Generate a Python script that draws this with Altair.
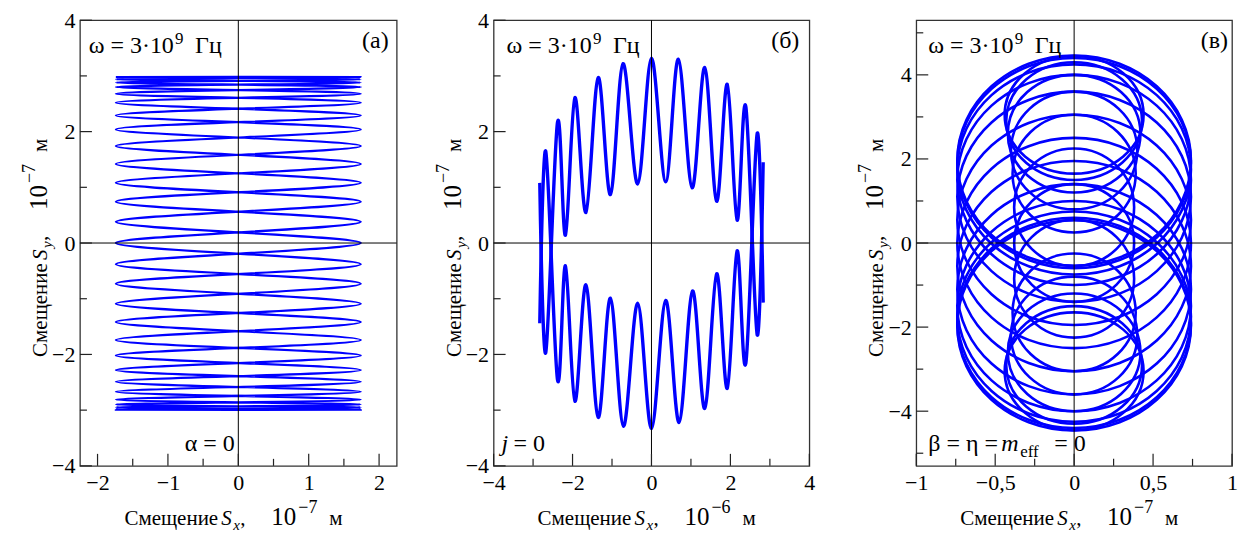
import altair as alt
import pandas as pd

FONT = "Liberation Serif"
BLUE = "#0000ff"

# ---------------- panel (а): turning levels of the sweeps, 10^-7 m ----------------
a_levels = [2.98, 2.94, 2.88, 2.80, 2.68, 2.52, 2.29, 2.04, 1.74, 1.42, 1.08, 0.74, 0.38, 0.00,
            -0.38, -0.73, -1.09, -1.42, -1.74, -2.02, -2.28, -2.49, -2.67, -2.81, -2.90, -2.95, -2.99]
a_tip = 1.74

# ---------------- panel (б): extrema of the two branches ----------------
b_upper_x = [-2.83, -2.68, -2.38, -2.18, -1.94, -1.66, -1.35, -1.04, -0.72, -0.35, 0.00,
             0.36, 0.68, 1.03, 1.35, 1.65, 1.92, 2.17, 2.39, 2.68, 2.83]
b_upper_y = [1.08, -1.97, 2.17, 0.14, 2.61, 0.55, 2.97, 0.87, 3.22, 1.06, 3.32,
             1.10, 3.30, 0.99, 3.15, 0.75, 2.85, 0.41, 2.45, -1.65, 1.45]
b_lower_x = [-2.83, -2.68, -2.38, -2.18, -1.94, -1.66, -1.35, -1.04, -0.71, -0.35, 0.00,
             0.36, 0.70, 1.04, 1.35, 1.65, 1.92, 2.17, 2.39, 2.68, 2.83]
b_lower_y = [-1.44, 1.65, -2.46, -0.41, -2.84, -0.75, -3.13, -0.99, -3.29, -1.08, -3.33,
             -1.03, -3.22, -0.86, -2.97, -0.55, -2.61, -0.14, -2.16, 1.97, -1.07]

# ---------------- panel (в): loops (centre, half-width, half-height) ----------------
c_wide_cy = [1.96, 1.90, 1.75, 1.50, 1.10, 0.55, 0.00, -0.55, -1.10, -1.50, -1.75, -1.90, -1.96]
c_wide_rx = [0.74] * 13
c_wide_ry = [2.50] * 13
c_narrow_cy = [3.05, 2.90, 2.60, 2.20, 1.65, 0.85, 0.00, -0.85, -1.65, -2.20, -2.60, -2.90, -3.05]
c_narrow_rx = [0.44, 0.43, 0.42, 0.40, 0.39, 0.38, 0.38, 0.38, 0.39, 0.40, 0.42, 0.43, 0.44]
c_narrow_ry = [1.40] * 13

# ---------------- build point tables ----------------
ax, ay = [], []
n = len(a_levels)
for k in range(n):
    ax.append(-a_tip if k % 2 == 0 else a_tip)
    ay.append(a_levels[k])
for k in range(n - 1, -1, -1):
    ax.append(a_tip if k % 2 == 0 else -a_tip)
    ay.append(a_levels[k])
ax.append(-a_tip)
ay.append(a_levels[0])
df_a = pd.DataFrame({"x": ax, "y": ay, "i": range(len(ax)), "s": "a"})

df_b = pd.concat([
    pd.DataFrame({"x": b_upper_x, "y": b_upper_y, "i": range(len(b_upper_x)), "s": "up"}),
    pd.DataFrame({"x": b_lower_x, "y": b_lower_y, "i": range(len(b_lower_x)), "s": "low"}),
], ignore_index=True)

rows = []
loops = list(zip(c_wide_cy, c_wide_rx, c_wide_ry)) + list(zip(c_narrow_cy, c_narrow_rx, c_narrow_ry))
for k, (cyc, rx, ry) in enumerate(loops):
    for j, (px, py) in enumerate([(rx, cyc), (0.0, cyc + ry), (-rx, cyc), (0.0, cyc - ry)]):
        rows.append({"x": px, "y": py, "i": j, "s": f"loop{k}"})
df_c = pd.DataFrame(rows)

H = 446
TOPREF = 17   # reference-image offset used for top annotations


def text_layer(txt, x, y, size, style="normal", align="left", angle=0):
    return alt.Chart(pd.DataFrame({"t": [txt]})).mark_text(
        font=FONT, fontSize=size, fontStyle=style, align=align, baseline="alphabetic",
        angle=angle, color="black").encode(text="t:N", x=alt.value(x), y=alt.value(y))


def title_layers(var, exp, W, vertical):
    pieces = [("Смещение", 0, 0, 21, "normal"), ("S", 97, 0, 21, "italic"),
              (var, 109, -5, 15, "italic"), (",", 116, 0, 21, "normal"),
              ("10", 147, 0, 25, "normal"), (exp, 174, 12, 18, "normal"),
              ("м", 205, 0, 21, "normal")]
    out = []
    if vertical:
        x0, y0 = -33, H / 2 + 114
        for t, off, rise, size, st in pieces:
            out.append(text_layer(t, x0 - rise, y0 - off, size, st, angle=270))
    else:
        x0, y0 = W / 2 - 114, H + 59
        for t, off, rise, size, st in pieces:
            out.append(text_layer(t, x0 + off, y0 - rise, size, st))
    return out


def omega_layers(x0):
    y0 = 50 - TOPREF
    return [text_layer("ω = 3·10", x0, y0, 24), text_layer("9", x0 + 86.5, y0 - 9, 17),
            text_layer("Гц", x0 + 106.5, y0, 24)]


def panel(df, W, xdom, ydom, xmaj, xmin, ymaj, ymin, sw, interp, tension, xexp, texts, comma=False):
    xs = alt.Scale(domain=xdom, nice=False, zero=False)
    ys = alt.Scale(domain=ydom, nice=False, zero=False)
    lab = "replace(format(datum.value, '~g'), '.', ',')" if comma else "datum.label"
    xaxis = alt.Axis(values=xmaj, title=None, ticks=False, domain=False, grid=False,
                     labelFont=FONT, labelFontSize=22, labelColor="black", labelPadding=7,
                     labelFlush=False, labelOverlap=False, labelExpr=lab)
    yaxis = alt.Axis(values=ymaj, title=None, ticks=False, domain=False, grid=False,
                     labelFont=FONT, labelFontSize=22, labelColor="black", labelPadding=5,
                     labelFlush=False, labelOverlap=False)
    curve = alt.Chart(df).mark_line(color=BLUE, strokeWidth=sw, interpolate=interp,
                                    tension=tension, clip=True).encode(
        x=alt.X("x:Q", scale=xs, axis=xaxis), y=alt.Y("y:Q", scale=ys, axis=yaxis),
        order="i:Q", detail="s:N")
    zx = alt.Chart(pd.DataFrame({"v": [0]})).mark_rule(color="black", strokeWidth=1).encode(
        x=alt.X("v:Q", scale=xs, axis=xaxis))
    zy = alt.Chart(pd.DataFrame({"v": [0]})).mark_rule(color="black", strokeWidth=1).encode(
        y=alt.Y("v:Q", scale=ys, axis=yaxis))
    ticks = []
    for vals, ln in ((xmaj, 12), (xmin, 7)):
        ticks.append(alt.Chart(pd.DataFrame({"v": vals})).mark_rule(color="#222", strokeWidth=1.2).encode(
            x=alt.X("v:Q", scale=xs, axis=xaxis), y=alt.value(H), y2=alt.value(H - ln)))
    for vals, ln in ((ymaj, 12), (ymin, 7)):
        ticks.append(alt.Chart(pd.DataFrame({"v": vals})).mark_rule(color="#222", strokeWidth=1.2).encode(
            y=alt.Y("v:Q", scale=ys, axis=yaxis), x=alt.value(0), x2=alt.value(ln)))
    layers = [curve, zx, zy] + ticks + title_layers("x", xexp, W, False) + \
        title_layers("y", "−7", W, True) + texts
    return alt.layer(*layers).properties(width=W, height=H)


OA, OB, OC = 83, 497, 920   # plot left edges in the reference


def bottom_y(abs_ref):
    return H - (475 - abs_ref)


texts_a = omega_layers(91.7 - OA) + [
    text_layer("(а)", 392 - OA, 45 - TOPREF, 24, align="right"),
    text_layer("α = 0", 238 - OA, bottom_y(460), 24, align="right")]
texts_b = omega_layers(510 - OB) + [
    text_layer("(б)", 803 - OB, 45 - TOPREF, 24, align="right"),
    text_layer("j", 505 - OB, bottom_y(460), 24, style="italic"),
    text_layer("= 0", 517 - OB, bottom_y(460), 24)]
texts_c = omega_layers(932 - OC) + [
    text_layer("(в)", 1232 - OC, 45 - TOPREF, 24, align="right"),
    text_layer("β = η =", 932 - OC, bottom_y(460), 24),
    text_layer("m", 1005 - OC, bottom_y(460), 24, style="italic"),
    text_layer("eff", 1024 - OC, bottom_y(466), 17),
    text_layer("= 0", 1058 - OC, bottom_y(460), 24)]

pa = panel(df_a, 317, [-2.25, 2.25], [-4, 4], [-2, -1, 0, 1, 2], [-1.5, -0.5, 0.5, 1.5],
           [-4, -2, 0, 2, 4], [-3, -1, 1, 3], 2.2, "cardinal", 0, "−7", texts_a)
pb = panel(df_b, 316, [-4, 4], [-4, 4], [-4, -2, 0, 2, 4], [-3, -1, 1, 3],
           [-4, -2, 0, 2, 4], [-3, -1, 1, 3], 3.4, "cardinal", 0, "−6", texts_b)
pc = panel(df_c, 316, [-1, 1], [-5.3, 5.3], [-1, -0.5, 0, 0.5, 1], [-0.75, -0.25, 0.25, 0.75],
           [-4, -2, 0, 2, 4], [-5, -3, -1, 1, 3, 5], 2.6, "cardinal-closed", -0.657, "−7",
           texts_c, comma=True)

chart = alt.hconcat(pa, alt.hconcat(pb, pc, spacing=107, bounds="flush"),
                    spacing=97, bounds="flush").properties(
    padding={"left": 12, "top": 0, "right": 0, "bottom": 0}, background="white"
).configure_view(stroke="#333", strokeWidth=1.3)

chart.save("out.html", embed_options={"renderer": "svg", "actions": False})
